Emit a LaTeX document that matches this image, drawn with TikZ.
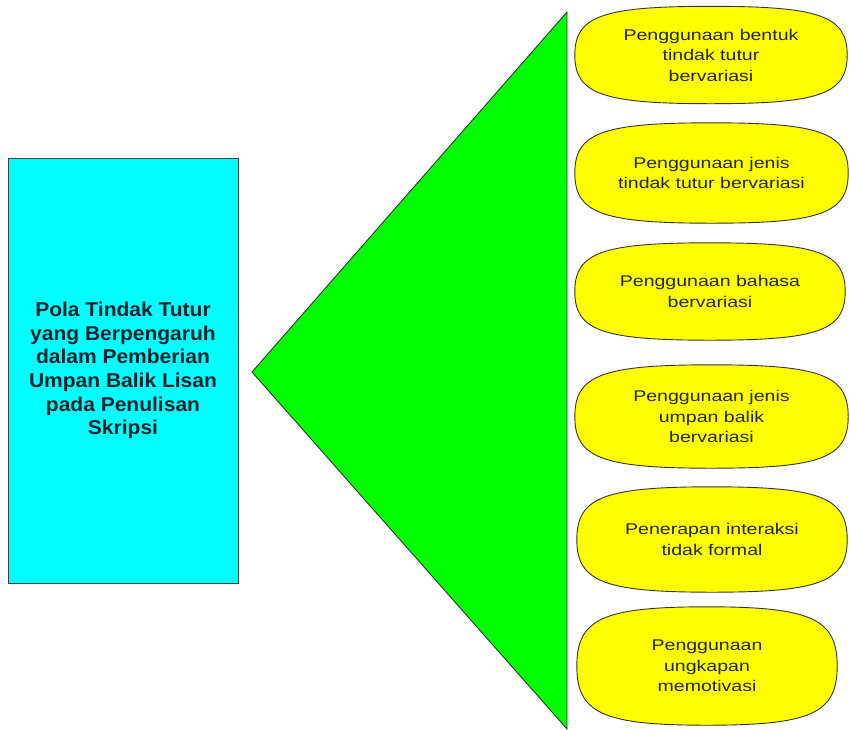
\documentclass[tikz,border=0pt]{standalone}
\usepackage{fontspec}
\setmainfont{Liberation Sans}
\newfontfamily\itemfont[FakeStretch=1.26]{Liberation Sans}
\newfontfamily\polafont[FakeStretch=1.05]{Liberation Sans}
\usetikzlibrary{calc,backgrounds}

\definecolor{polacyan}{RGB}{0,255,255}
\definecolor{polagreen}{RGB}{0,255,0}
\definecolor{polayellow}{RGB}{255,255,0}
\definecolor{polatext}{RGB}{10,35,45}

\tikzset{
  polabox/.style={draw=black!75, fill=polacyan, line width=0.9pt, minimum width=230pt,
    minimum height=425pt, inner sep=0pt, align=center, text=polatext,
    font=\polafont\bfseries\fontsize{20}{23.6}\selectfont},
  itembox/.style={inner sep=0pt, align=center, text=black!85,
    font=\itemfont\fontsize{15.5}{20.5}\selectfont},
  itemline/.style={draw=black!80, fill=polayellow, line width=0.9pt},
}

\begin{document}
\begin{tikzpicture}[x=1pt,y=-1pt]
\useasboundingbox (0,0) rectangle (850,729);
\node[polabox] (pola) at (123,370.5) {Pola Tindak Tutur\\yang Berpengaruh\\dalam Pemberian\\Umpan Balik Lisan\\pada Penulisan\\Skripsi};
% segitiga
\coordinate (apex) at (252,372);
\coordinate (top) at (567,12);
\coordinate (bot) at (567,729);
\draw[fill=polagreen, draw=black!80, line width=0.9pt] (apex) -- (top) -- (bot) -- cycle;
% butir
\node[itembox, minimum width=272pt, minimum height=97pt] (item1) at (711,55) {Penggunaan bentuk\\tindak tutur\\bervariasi};
\node[itembox, minimum width=273pt, minimum height=100pt] (item2) at (711.5,173) {Penggunaan jenis\\tindak tutur bervariasi};
\node[itembox, minimum width=270pt, minimum height=97pt] (item3) at (710,291.5) {Penggunaan bahasa\\bervariasi};
\node[itembox, minimum width=273pt, minimum height=103pt] (item4) at (711.5,416.5) {Penggunaan jenis\\umpan balik\\bervariasi};
\node[itembox, minimum width=270pt, minimum height=105pt] (item5) at (712,539.5) {Penerapan interaksi\\tidak formal};
\node[itembox, minimum width=260pt, minimum height=118pt] (item6) at (707,666) {Penggunaan\\ungkapan\\memotivasi};
\begin{scope}[on background layer]
\foreach \i in {1,...,6}
  \draw[itemline] (item\i.west)
    .. controls ($(item\i.west)!0.8!(item\i.north west)$) and ($(item\i.north)!0.8!(item\i.north west)$) .. (item\i.north)
    .. controls ($(item\i.north)!0.8!(item\i.north east)$) and ($(item\i.east)!0.8!(item\i.north east)$) .. (item\i.east)
    .. controls ($(item\i.east)!0.8!(item\i.south east)$) and ($(item\i.south)!0.8!(item\i.south east)$) .. (item\i.south)
    .. controls ($(item\i.south)!0.8!(item\i.south west)$) and ($(item\i.west)!0.8!(item\i.south west)$) .. (item\i.west) -- cycle;
\end{scope}
\end{tikzpicture}
\end{document}
